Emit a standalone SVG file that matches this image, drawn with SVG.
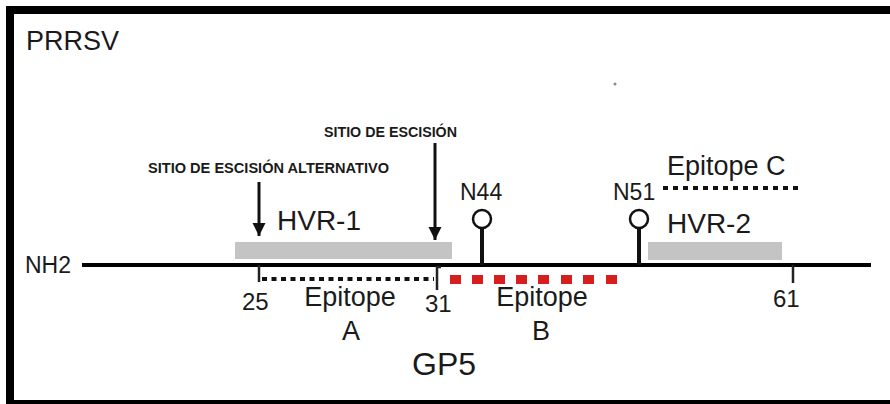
<svg xmlns="http://www.w3.org/2000/svg" width="890" height="404" viewBox="0 0 890 404">
<defs>
<style>
.t{font-family:"Liberation Sans",Arial,sans-serif;fill:#1a1a1a}
.s{font-family:"Liberation Sans",Arial,sans-serif;font-weight:bold;fill:#1a1a1a;font-size:14px}
.hvr{fill:#c4c4c4}
.tick{stroke:#222;stroke-width:2.5;fill:none}
.stem{stroke:#111;stroke-width:4;fill:none}
.glyc{fill:#fff;stroke:#111;stroke-width:2.5}
.arrow{stroke:#111;stroke-width:3;fill:none}
</style>
<marker id="ah" viewBox="0 0 10 10" refX="10" refY="5" markerWidth="4.5" markerHeight="4.5" markerUnits="strokeWidth" orient="auto">
<path d="M0,0 L10,5 L0,10 Z" fill="#111"/>
</marker>
</defs>
<rect x="0" y="0" width="890" height="404" fill="#fff"/>
<rect x="10" y="10" width="900" height="394" fill="none" stroke="#000" stroke-width="8"/>
<text class="t" x="26" y="50" font-size="27">PRRSV</text>
<circle cx="615" cy="84" r="1.5" fill="#888"/>

<g id="hvr1"><rect class="hvr" x="235" y="242" width="217" height="17"/><text class="t" x="277" y="230" font-size="28">HVR-1</text></g>
<g id="hvr2"><rect class="hvr" x="648" y="242" width="134" height="18"/><text class="t" x="667" y="233" font-size="28">HVR-2</text></g>

<g id="backbone">
<line x1="82" y1="265" x2="871" y2="265" stroke="#000" stroke-width="4"/>
<text class="t" x="25" y="273" font-size="23">NH2</text>
</g>

<g id="epitopeA">
<line x1="262" y1="279" x2="434" y2="279" stroke="#111" stroke-width="4" stroke-dasharray="5 4.5"/>
<path class="tick" d="M259,265 V282"/>
<path class="tick" d="M437,290 V267 H441"/>
<text class="t" x="242" y="310" font-size="24">25</text>
<text class="t" x="425" y="312" font-size="24">31</text>
<text class="t" x="350" y="306" font-size="27" text-anchor="middle">Epitope</text>
<text class="t" x="351" y="340" font-size="27" text-anchor="middle">A</text>
</g>

<g id="epitopeB" fill="#d71e1e">
<rect x="450" y="275" width="11" height="9"/>
<rect x="472" y="275" width="11" height="9"/>
<rect x="494" y="275" width="11" height="9"/>
<rect x="516" y="275" width="11" height="9"/>
<rect x="538" y="275" width="11" height="9"/>
<rect x="561" y="275" width="11" height="9"/>
<rect x="583" y="275" width="11" height="9"/>
<rect x="606" y="275" width="11" height="9"/>
</g>
<g id="epitopeBlabel">
<text class="t" x="542" y="306" font-size="27" text-anchor="middle">Epitope</text>
<text class="t" x="541" y="340" font-size="27" text-anchor="middle">B</text>
</g>

<g id="epitopeC">
<line x1="663" y1="188" x2="802" y2="188" stroke="#111" stroke-width="4" stroke-dasharray="5 5"/>
<text class="t" x="667" y="175" font-size="27">Epitope C</text>
</g>

<g id="pos61">
<path class="tick" d="M793,265 V283"/>
<text class="t" x="773" y="307" font-size="24">61</text>
</g>

<g id="n44">
<line class="stem" x1="482" y1="228" x2="482" y2="265"/>
<circle class="glyc" cx="482" cy="219" r="9"/>
<text class="t" x="460" y="200" font-size="23">N44</text>
</g>
<g id="n51">
<line class="stem" x1="639" y1="228" x2="639" y2="265"/>
<circle class="glyc" cx="639" cy="219" r="9"/>
<text class="t" x="613" y="200" font-size="23">N51</text>
</g>

<g id="connectors">
<line class="arrow" x1="259" y1="182" x2="259" y2="236" marker-end="url(#ah)"/>
<line class="arrow" x1="435" y1="143" x2="435" y2="240" marker-end="url(#ah)"/>
</g>
<g id="cleavage-labels">
<text class="s" x="324" y="137" textLength="133" lengthAdjust="spacingAndGlyphs">SITIO DE ESCISIÓN</text>
<text class="s" x="148" y="173" textLength="241" lengthAdjust="spacingAndGlyphs">SITIO DE ESCISIÓN ALTERNATIVO</text>
</g>
<text class="t" x="444" y="375" font-size="32" text-anchor="middle">GP5</text>
</svg>
